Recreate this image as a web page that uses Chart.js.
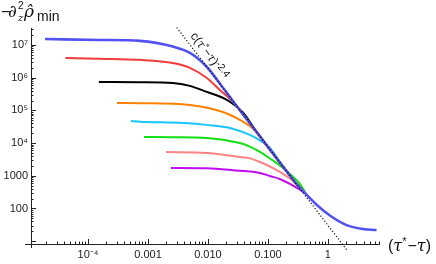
<!DOCTYPE html>
<html>
<head>
<meta charset="utf-8">
<script src="https://cdn.jsdelivr.net/npm/chart.js@4.4.0/dist/chart.umd.min.js"></script>
<style>
  html, body { margin: 0; padding: 0; background: #fff; }
  #wrap { width: 436px; height: 264px; }
</style>
</head>
<body>
<div id="wrap"><canvas id="myChart" width="436" height="264"></canvas></div>
<script>
const tauFit = [0.00302, 2.05];
const rhoFit = [3.41e7, 5.5];

const tauBlue = [1.92e-5, 1.6e-4, 7.4e-4, 2.6e-3, 5.0e-3, 9.6e-3, 0.0178, 0.0316, 0.056, 0.1, 0.2, 0.3, 0.414, 0.656, 1.08, 2.05, 3.83, 6.48];
const rhoBlue = [1.52e7, 1.42e7, 1.33e7, 8.9e6, 5.7e6, 2.12e6, 4.9e5, 1.2e5, 3.1e4, 7.7e3, 1.46e3, 560, 298, 128, 61, 31, 23.6, 22];

const tauRed = [4.2e-5, 1.5e-4, 7.4e-4, 2.6e-3, 5.0e-3, 9.6e-3, 0.0158, 0.026, 0.05, 0.1, 0.2, 0.3, 0.414];
const rhoRed = [4.0e6, 3.8e6, 3.5e6, 2.8e6, 2.0e6, 9.8e5, 4.2e5, 1.85e5, 4.0e4, 7.6e3, 1.45e3, 555, 298];

const tauBlack = [1.52e-4, 7.4e-4, 2.6e-3, 5.0e-3, 9.6e-3, 0.0207, 0.0383, 0.06, 0.1, 0.2, 0.3, 0.414];
const rhoBlack = [7.4e5, 7.3e5, 6.9e5, 5.6e5, 3.66e5, 2.1e5, 8.6e4, 2.7e4, 7.5e3, 1.45e3, 555, 298];

const tauOrange = [3.04e-4, 7.4e-4, 5.0e-3, 0.0178, 0.0341, 0.056, 0.1, 0.2, 0.3, 0.414];
const rhoOrange = [1.68e5, 1.66e5, 1.46e5, 8.9e4, 5.1e4, 2.8e4, 7.4e3, 1.44e3, 555, 298];

const tauCyan = [5.2e-4, 7.4e-4, 4.0e-3, 9.6e-3, 0.0233, 0.05, 0.0736, 0.108, 0.158, 0.233, 0.3, 0.414];
const rhoCyan = [4.7e4, 4.5e4, 4.1e4, 3.6e4, 2.9e4, 1.77e4, 1.2e4, 7.1e3, 2.64e3, 1.0e3, 550, 298];

const tauGreen = [8.6e-4, 2.5e-3, 9.6e-3, 0.034, 0.05, 0.0736, 0.108, 0.158, 0.233, 0.341, 0.414];
const rhoGreen = [1.54e4, 1.5e4, 1.43e4, 1.0e4, 7.8e3, 5.35e3, 3.38e3, 2.07e3, 1.14e3, 561, 320];

const tauSalmon = [2.0e-3, 9.6e-3, 0.034, 0.05, 0.0736, 0.108, 0.158, 0.233, 0.304, 0.414];
const rhoSalmon = [5.3e3, 5.0e3, 3.76e3, 3.4e3, 2.64e3, 1.92e3, 1.31e3, 826, 561, 310];

const tauMagenta = [2.42e-3, 9.6e-3, 0.034, 0.05, 0.0736, 0.108, 0.158, 0.233, 0.304, 0.414];
const rhoMagenta = [1.73e3, 1.7e3, 1.42e3, 1.35e3, 1.22e3, 986, 798, 561, 424, 298];

const xTicks = [1e-4, 0.001, 0.01, 0.1, 1];
const xTickLabels = ['10\u207B\u2074', '0.001', '0.010', '0.100', '1'];
const yTicks = [100, 1000, 1e4, 1e5, 1e6, 1e7];
const yTickLabels = ['100', '1000', '10\u2074', '10\u2075', '10\u2076', '10\u2077'];

// assemble the points {x, y}
function pts(xs, ys) {
    return xs.map((v, i) => ({ x: v, y: ys[i] }));
}

function curve(xs, ys, color, width) {
    return {
        data: pts(xs, ys),
        borderColor: color,
        borderWidth: width,
        pointRadius: 0,
        showLine: true,
        cubicInterpolationMode: 'monotone',
        fill: false
    };
}

// axes, tick marks and titles drawn like Mathematica (ticks inside)
const axesPlugin = {
    id: 'axesPlugin',
    beforeDatasetsDraw(chart) {
        const { ctx, chartArea: a, scales: { x, y } } = chart;
        ctx.save();
        ctx.strokeStyle = '#222';
        ctx.lineWidth = 1;
        ctx.beginPath();
        ctx.moveTo(a.left - 6, a.bottom + 0.5);
        ctx.lineTo(a.right, a.bottom + 0.5);
        ctx.moveTo(a.left + 0.5, a.top);
        ctx.lineTo(a.left + 0.5, a.bottom + 4);
        for (let e = -5; e <= 0; e++) {
            for (let k = 1; k <= 9; k++) {
                const px = Math.round(x.getPixelForValue(k * Math.pow(10, e))) + 0.5;
                if (px < a.left + 2 || px > a.right) continue;
                const len = k === 1 ? 5 : 2.5;
                ctx.moveTo(px, a.bottom);
                ctx.lineTo(px, a.bottom - len);
            }
        }
        for (let e = 0; e <= 7; e++) {
            for (let k = 1; k <= 9; k++) {
                const py = Math.round(y.getPixelForValue(k * Math.pow(10, e))) + 0.5;
                if (py > a.bottom - 1 || py < a.top) continue;
                const len = k === 1 ? 5 : 2.5;
                ctx.moveTo(a.left, py);
                ctx.lineTo(a.left + len, py);
            }
        }
        ctx.stroke();
        ctx.restore();
    },
    afterDraw(chart) {
        const { ctx } = chart;
        ctx.save();
        ctx.fillStyle = '#111';
        ctx.textBaseline = 'alphabetic';

        // y title : -∂²z ρ̂min
        ctx.font = '16px "Liberation Sans"';
        ctx.fillText('\u2212', 1, 17);
        ctx.font = 'italic 17px "DejaVu Serif"';
        ctx.fillText('\u2202', 8, 17);
        ctx.font = '10px "Liberation Sans"';
        ctx.fillText('2', 18, 9);
        ctx.font = 'italic 10px "DejaVu Serif"';
        ctx.fillText('z', 18, 21);
        ctx.font = 'italic 17px "DejaVu Serif"';
        ctx.fillText('\u03C1\u0302', 24, 17);
        ctx.font = '14px "Liberation Sans"';
        ctx.fillText('min', 37, 21);

        // x title : (τ*−τ)
        let px = 388;
        const base = 251;
        ctx.font = '16px "Liberation Sans"';
        ctx.fillText('(', px, base); px += ctx.measureText('(').width;
        ctx.font = 'italic 16px "DejaVu Serif"';
        ctx.fillText('\u03C4', px, base); px += ctx.measureText('\u03C4').width;
        ctx.font = '11px "Liberation Sans"';
        ctx.fillText('*', px, base - 6); px += ctx.measureText('*').width + 1;
        ctx.font = '16px "Liberation Sans"';
        ctx.fillText('\u2212', px, base); px += ctx.measureText('\u2212').width;
        ctx.font = 'italic 16px "DejaVu Serif"';
        ctx.fillText('\u03C4', px, base); px += ctx.measureText('\u03C4').width;
        ctx.font = '16px "Liberation Sans"';
        ctx.fillText(')', px, base);

        // fit label, rotated along the dotted line
        ctx.translate(190, 36);
        ctx.rotate(0.92);
        let tx = 0;
        ctx.font = '12px "Liberation Sans"';
        ctx.fillText('c(', tx, 0); tx += ctx.measureText('c(').width;
        ctx.font = 'italic 12px "DejaVu Serif"';
        ctx.fillText('\u03C4', tx, 0); tx += ctx.measureText('\u03C4').width;
        ctx.font = '9px "Liberation Sans"';
        ctx.fillText('*', tx, -4); tx += ctx.measureText('*').width;
        ctx.font = '12px "Liberation Sans"';
        ctx.fillText('\u2212', tx, 0); tx += ctx.measureText('\u2212').width;
        ctx.font = 'italic 12px "DejaVu Serif"';
        ctx.fillText('\u03C4', tx, 0); tx += ctx.measureText('\u03C4').width;
        ctx.font = '12px "Liberation Sans"';
        ctx.fillText(')', tx, 0); tx += ctx.measureText(')').width;
        ctx.font = '10px "Liberation Sans"';
        ctx.fillText('-2.4', tx, -3);
        ctx.restore();
    }
};

const fitLine = {
    data: pts(tauFit, rhoFit),
    borderColor: '#111',
    borderWidth: 1.2,
    borderDash: [1.2, 2],
    pointRadius: 0,
    showLine: true,
    fill: false,
    clip: false
};

const ctx = document.getElementById('myChart').getContext('2d');
const myChart = new Chart(ctx, {
    type: 'scatter',
    data: {
        datasets: [
            fitLine,
            curve(tauBlue, rhoBlue, '#5252f2', 2.6),
            curve(tauRed, rhoRed, '#f03c3c', 2),
            curve(tauBlack, rhoBlack, '#000000', 2),
            curve(tauOrange, rhoOrange, '#ff8000', 2),
            curve(tauCyan, rhoCyan, '#19c6ff', 2),
            curve(tauGreen, rhoGreen, '#12e012', 2),
            curve(tauSalmon, rhoSalmon, '#ff8484', 2),
            curve(tauMagenta, rhoMagenta, '#c20cf0', 2)
        ]
    },
    options: {
        responsive: false,
        animation: false,
        devicePixelRatio: 1,
        layout: { padding: { top: 28, right: 56, left: 0, bottom: 0 } },
        plugins: { legend: { display: false }, tooltip: { enabled: false } },
        scales: {
            x: {
                type: 'logarithmic',
                min: 1.12e-5,
                max: 7.4,
                grid: { display: false, drawTicks: false },
                border: { display: false },
                afterBuildTicks: (s) => { s.ticks = xTicks.map(v => ({ value: v })); },
                afterFit: (s) => { s.height = 20; },
                ticks: {
                    autoSkip: false,
                    maxRotation: 0,
                    padding: 4,
                    color: '#222',
                    font: { family: 'Liberation Sans', size: 11 },
                    callback: (v, i) => xTickLabels[i]
                }
            },
            y: {
                type: 'logarithmic',
                min: 8.2,
                max: 3.3e7,
                grid: { display: false, drawTicks: false },
                border: { display: false },
                afterBuildTicks: (s) => { s.ticks = yTicks.map(v => ({ value: v })); },
                afterFit: (s) => { s.width = 31; },
                ticks: {
                    autoSkip: false,
                    padding: 3,
                    color: '#222',
                    font: { family: 'Liberation Sans', size: 11 },
                    callback: (v, i) => yTickLabels[i]
                }
            }
        }
    },
    plugins: [axesPlugin]
});
</script>
</body>
</html>
